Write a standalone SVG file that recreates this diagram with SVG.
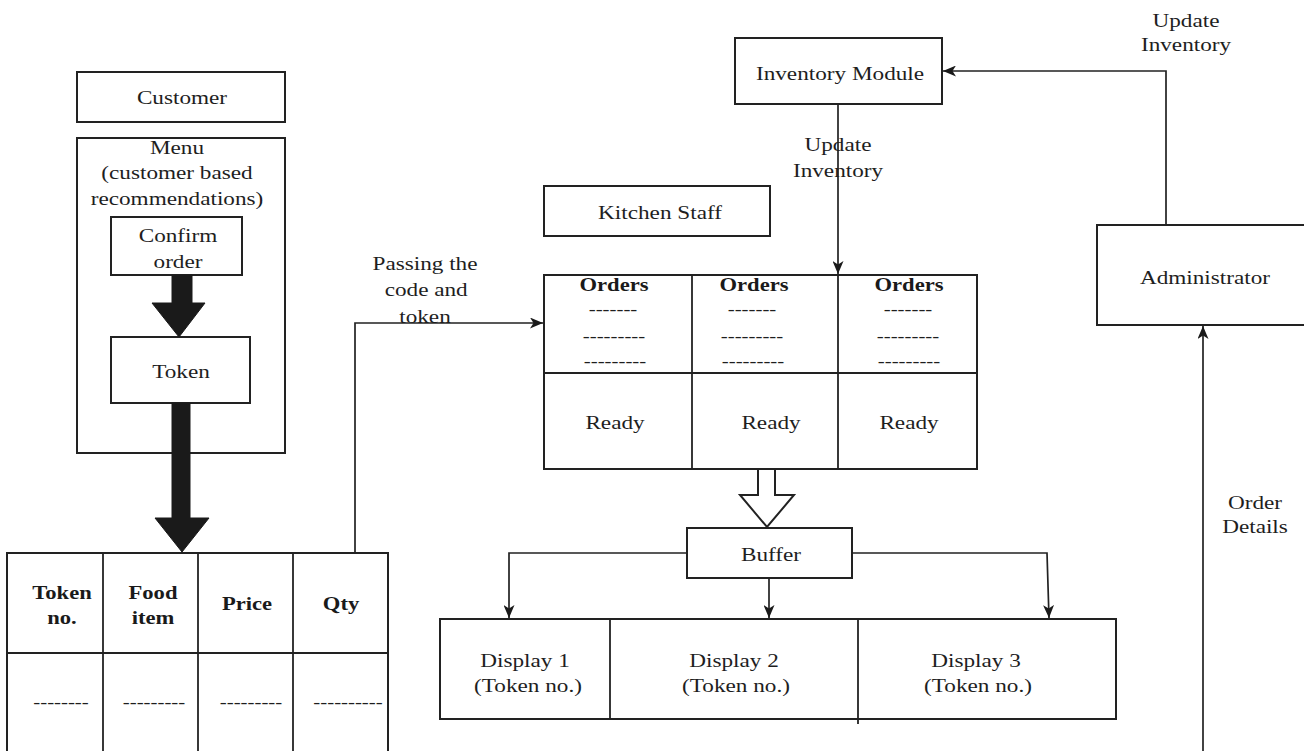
<svg xmlns="http://www.w3.org/2000/svg" width="1304" height="751" viewBox="0 0 1304 751">
<style>
.box{fill:#fff;stroke:#222;stroke-width:2}
.ln{fill:none;stroke:#222;stroke-width:1.8}
.conn{fill:none;stroke:#222;stroke-width:1.7}
.t{font-family:"Liberation Serif","Times New Roman",serif;font-size:19.5px;fill:#1e1e1e;text-anchor:middle}
.b{font-family:"Liberation Serif","Times New Roman",serif;font-size:19px;font-weight:bold;fill:#1a1a1a;text-anchor:middle}
.d{font-family:"Liberation Serif","Times New Roman",serif;font-size:17.5px;fill:#1e1e1e;text-anchor:middle}
.thick{fill:#1a1a1a;stroke:#1a1a1a;stroke-width:1}
.hollow{fill:#fff;stroke:#222;stroke-width:2;stroke-linejoin:miter}
</style>
<defs>
<marker id="arr" viewBox="0 0 13 11" refX="13" refY="5.5" markerWidth="13" markerHeight="11" markerUnits="userSpaceOnUse" orient="auto">
<path d="M0,0 L13,5.5 L0,11 L3.5,5.5 Z" fill="#1a1a1a"/>
</marker>
</defs>
<rect width="1304" height="751" fill="#fff"/>

<g id="customer">
<rect class="box" x="77" y="72" width="208" height="50"/>
<text class="t" transform="translate(182,103.5) scale(1.19,1)">Customer</text>
</g>

<g id="menu">
<rect class="box" x="77" y="138" width="208" height="315"/>
<text class="t" transform="translate(177,153.5) scale(1.19,1)"><tspan x="0" y="0">Menu</tspan><tspan x="0" y="26">(customer based</tspan><tspan x="0" y="52">recommendations)</tspan></text>
</g>

<g id="confirm-order">
<rect class="box" x="111" y="217" width="131" height="58"/>
<text class="t" transform="translate(178,241.5) scale(1.19,1)"><tspan x="0" y="0">Confirm</tspan><tspan x="0" y="27">order</tspan></text>
</g>

<g id="token">
<rect class="box" x="111" y="337" width="139" height="66"/>
<text class="t" transform="translate(181,377.5) scale(1.19,1)">Token</text>
</g>

<g id="order-table">
<rect class="box" x="7" y="553" width="381" height="210"/>
<line class="ln" x1="7" y1="653" x2="388" y2="653"/>
<line class="ln" x1="103" y1="553" x2="103" y2="763"/>
<line class="ln" x1="198" y1="553" x2="198" y2="763"/>
<line class="ln" x1="293" y1="553" x2="293" y2="763"/>
<text class="b" transform="translate(62,598.5) scale(1.19,1)"><tspan x="0" y="0">Token</tspan><tspan x="0" y="26">no.</tspan></text>
<text class="b" transform="translate(153,598.5) scale(1.19,1)"><tspan x="0" y="0">Food</tspan><tspan x="0" y="26">item</tspan></text>
<text class="b" transform="translate(247,610) scale(1.19,1)">Price</text>
<text class="b" transform="translate(341,610) scale(1.19,1)">Qty</text>
<text class="d" transform="translate(61,707.5) scale(1.19,1)">--------</text>
<text class="d" transform="translate(154,707.5) scale(1.19,1)">---------</text>
<text class="d" transform="translate(251,707.5) scale(1.19,1)">---------</text>
<text class="d" transform="translate(348,707.5) scale(1.19,1)">----------</text>
</g>

<g id="inventory-module">
<rect class="box" x="735" y="38" width="207" height="66"/>
<text class="t" transform="translate(840,79.5) scale(1.19,1)">Inventory Module</text>
</g>

<g id="kitchen-staff">
<rect class="box" x="544" y="186" width="226" height="50"/>
<text class="t" transform="translate(660,218.5) scale(1.19,1)">Kitchen Staff</text>
</g>

<g id="orders">
<rect class="box" x="544" y="275" width="433" height="194"/>
<line class="ln" x1="544" y1="373" x2="977" y2="373"/>
<line class="ln" x1="692" y1="275" x2="692" y2="469"/>
<line class="ln" x1="838" y1="275" x2="838" y2="469"/>
<text class="b" transform="translate(614,291) scale(1.19,1)">Orders</text>
<text class="b" transform="translate(754,291) scale(1.19,1)">Orders</text>
<text class="b" transform="translate(909,291) scale(1.19,1)">Orders</text>
<text class="d" transform="translate(613,314.5) scale(1.19,1)">-------</text>
<text class="d" transform="translate(614,341.5) scale(1.19,1)">---------</text>
<text class="d" transform="translate(615,366.5) scale(1.19,1)">---------</text>
<text class="d" transform="translate(752,314.5) scale(1.19,1)">-------</text>
<text class="d" transform="translate(752,341.5) scale(1.19,1)">---------</text>
<text class="d" transform="translate(753,366.5) scale(1.19,1)">---------</text>
<text class="d" transform="translate(908,314.5) scale(1.19,1)">-------</text>
<text class="d" transform="translate(908,341.5) scale(1.19,1)">---------</text>
<text class="d" transform="translate(909,366.5) scale(1.19,1)">---------</text>
<text class="t" transform="translate(615,428.5) scale(1.19,1)">Ready</text>
<text class="t" transform="translate(771,428.5) scale(1.19,1)">Ready</text>
<text class="t" transform="translate(909,428.5) scale(1.19,1)">Ready</text>
</g>

<g id="buffer">
<rect class="box" x="687" y="528" width="165" height="50"/>
<text class="t" transform="translate(771,560.5) scale(1.19,1)">Buffer</text>
</g>

<g id="displays">
<rect class="box" x="440" y="619" width="676" height="100"/>
<line class="ln" x1="610" y1="619" x2="610" y2="719"/>
<line class="ln" x1="858" y1="619" x2="858" y2="724"/>
<text class="t" transform="translate(525,666.5) scale(1.19,1)"><tspan x="0" y="0">Display 1</tspan><tspan x="2.5" y="26">(Token no.)</tspan></text>
<text class="t" transform="translate(734,666.5) scale(1.19,1)"><tspan x="0" y="0">Display 2</tspan><tspan x="1.7" y="26">(Token no.)</tspan></text>
<text class="t" transform="translate(976,666.5) scale(1.19,1)"><tspan x="0" y="0">Display 3</tspan><tspan x="1.7" y="26">(Token no.)</tspan></text>
</g>

<g id="administrator">
<rect class="box" x="1097" y="225" width="215" height="100"/>
<text class="t" transform="translate(1205,283.5) scale(1.19,1)">Administrator</text>
</g>

<g id="connectors">
<polygon class="thick" points="172,275 192,275 192,303 205,303 179,337 152,303 172,303"/>
<polygon class="thick" points="172,403 190,403 190,518 209,518 182,552 155,518 172,518"/>
<polygon class="hollow" points="758,469 775,469 775,495 794,495 767,527 740,495 758,495"/>
<path class="conn" d="M355,553 L355,323 L543,323" marker-end="url(#arr)"/>
<path class="conn" d="M838,104 L838,274" marker-end="url(#arr)"/>
<path class="conn" d="M1166,225 L1166,71 L943,71" marker-end="url(#arr)"/>
<path class="conn" d="M1203,760 L1203,326" marker-end="url(#arr)"/>
<path class="conn" d="M687,553 L509,553 L509,618" marker-end="url(#arr)"/>
<path class="conn" d="M769,578 L769,618" marker-end="url(#arr)"/>
<path class="conn" d="M852,553 L1047,553 L1049,618" marker-end="url(#arr)"/>
<text class="t" transform="translate(425,269.5) scale(1.19,1)"><tspan x="0" y="0">Passing the</tspan><tspan x="1" y="27">code and</tspan><tspan x="0" y="54">token</tspan></text>
<text class="t" transform="translate(838,150.5) scale(1.19,1)"><tspan x="0" y="0">Update</tspan><tspan x="0" y="27">Inventory</tspan></text>
<text class="t" transform="translate(1186,26.5) scale(1.19,1)"><tspan x="0" y="0">Update</tspan><tspan x="0" y="25">Inventory</tspan></text>
<text class="t" transform="translate(1255,508.5) scale(1.19,1)"><tspan x="0" y="0">Order</tspan><tspan x="0" y="25">Details</tspan></text>
</g>
</svg>
